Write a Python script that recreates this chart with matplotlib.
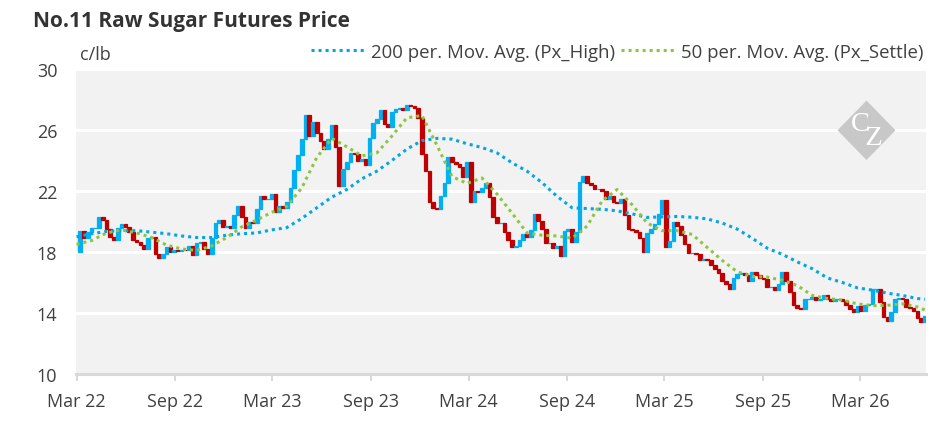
import matplotlib
matplotlib.use("Agg")
import matplotlib.pyplot as plt
from matplotlib.lines import Line2D
from matplotlib.patches import Polygon
import numpy as np
import pandas as pd

plt.rcParams['font.family'] = ['Open Sans', 'DejaVu Sans']

title = "No.11 Raw Sugar Futures Price"
unit_label = "c/lb"
legend_labels = ["200 per. Mov. Avg. (Px_High)", "50 per. Mov. Avg. (Px_Settle)"]
watermark = "C\n  Z"
start_date = "2022-03-01"

# weekly settle prices (c/lb)
settle = [
    18.0, 19.4, 18.9, 19.3, 19.6, 19.6, 20.3, 20.1, 19.5, 19.0,
    18.8, 19.6, 19.85, 19.65, 19.3, 18.8, 18.65, 18.45, 18.2, 18.9,
    19.0, 17.9, 17.6, 17.9, 18.3, 18.0, 18.1, 18.05, 18.15, 18.1,
    18.4, 17.8, 18.6, 18.65, 18.2, 17.9, 18.9, 19.9, 20.1, 19.65,
    19.7, 19.6, 20.4, 21.0, 20.3, 19.6, 19.95, 19.9, 20.8, 21.7,
    21.5, 21.5, 21.8, 20.6, 21.0, 20.9, 21.3, 22.2,
    23.4, 24.35, 25.4, 27.0, 25.6, 26.5, 25.8, 25.3, 24.75, 25.4,
    26.35, 24.9, 22.3, 23.45, 23.9, 24.5, 24.4, 23.95, 24.1, 23.7,
    25.45, 26.45, 26.7, 27.3, 26.4, 26.2, 27.2, 27.4, 27.45, 27.3,
    27.65, 27.6, 27.45, 26.8, 24.4, 23.3, 21.3, 20.9, 20.85, 21.7,
    22.5, 24.2, 23.9, 23.75, 23.6, 22.9, 23.9, 21.3, 22.0, 21.95,
    22.2, 22.55, 21.6, 20.3, 19.9, 19.9, 19.3,
    18.8, 18.35, 18.4, 18.8, 19.2, 19.0, 19.45, 20.5, 20.05, 19.5,
    18.6, 18.6, 18.25, 18.4, 17.75, 19.4, 19.5, 18.65, 19.3, 22.6,
    23.0, 22.5, 22.4, 22.1, 22.1, 22.0, 21.45, 21.7, 21.25, 21.2,
    21.5, 20.4, 19.5, 19.45, 19.3, 18.9, 18.0, 19.25, 19.5, 19.85,
    20.5, 21.4, 18.3, 18.7, 20.0, 19.7, 19.1, 18.5, 17.95, 17.95,
    17.85, 17.5, 17.55, 17.5, 17.15, 16.9, 16.65,
    16.1, 15.9, 15.6, 16.3, 16.55, 16.6, 16.5, 16.1, 16.7, 16.5,
    16.3, 16.2, 15.7, 15.7, 15.5, 15.9, 16.7, 16.1, 15.4, 14.5,
    14.3, 14.25, 14.9, 14.9, 15.05, 14.85, 14.9, 15.15, 14.95, 14.8,
    14.9, 14.9, 14.8, 14.55, 14.25, 14.05, 14.45, 14.1, 14.5, 14.6,
    15.6, 15.6, 14.7, 13.75, 13.5, 14.05, 14.9, 15.0, 14.95, 14.4,
    14.35, 14.1, 13.7, 13.4, 13.8,
]

# moving averages, read every 4 weeks (+ last week)
ma200_high = [
    19.0, 19.2, 19.35, 19.4, 19.4, 19.3, 19.2, 19.05, 18.95, 18.95,
    19.1, 19.2, 19.25, 19.45, 19.6, 20.2, 20.9, 21.6, 22.1, 22.8,
    23.3, 24.0, 24.75, 25.3, 25.45, 25.4, 25.1, 24.85, 24.5, 23.85,
    23.3, 22.55, 21.65, 20.9, 20.85, 20.8, 20.7, 20.5, 20.27, 20.3,
    20.33, 20.28, 20.17, 19.9, 19.5, 18.9, 18.25, 17.85, 17.35, 16.9,
    16.3, 16.0, 15.65, 15.5, 15.3, 15.15, 14.95, 14.9,
]
ma50_settle = [
    18.5, 18.75, 19.25, 19.45, 19.25, 18.95, 18.45, 18.2, 18.1, 18.4,
    18.95, 19.65, 20.1, 20.6, 21.0, 22.2, 24.2, 25.45, 24.9, 24.3,
    24.5, 25.6, 26.8, 26.95, 25.0, 22.95, 22.5, 22.85, 21.8, 20.55,
    19.25, 19.1, 19.05, 18.9, 19.7, 21.35, 22.1, 21.1, 19.9, 19.4,
    19.4, 19.15, 18.3, 17.45, 16.7, 16.4, 16.35, 16.15, 15.8, 15.15,
    14.95, 14.85, 14.6, 14.48, 14.5, 14.6, 14.4, 14.2,
]

y_ticks = [10, 14, 18, 22, 26, 30]
x_tick_dates = ["2022-03-01", "2022-09-01", "2023-03-01", "2023-09-01", "2024-03-01",
                "2024-09-01", "2025-03-01", "2025-09-01", "2026-03-01"]
x_tick_labels = ["Mar 22", "Sep 22", "Mar 23", "Sep 23", "Mar 24",
                 "Sep 24", "Mar 25", "Sep 25", "Mar 26"]

C_UP = "#00B0F0"
C_DOWN = "#C00000"
C_MA200 = "#00A6E6"
C_MA50 = "#8CC63F"
TXT = "#404040"
DOTS = (0, (1, 1.3))

dates = pd.date_range(start_date, periods=len(settle), freq="7D")
ma_dates = list(dates[::4]) + [dates[-1]]

fig = plt.figure(figsize=(9.51, 4.39), dpi=100)
ax = fig.add_axes([76 / 951, 1 - 375 / 439, 850 / 951, 305 / 439])
ax.set_facecolor("#F2F2F2")

s = np.array(settle)
op = s[:-1]
cl = s[1:]
lo = np.minimum(op, cl)
hi = np.maximum(op, cl)
cols = [C_UP if c >= o else C_DOWN for o, c in zip(op, cl)]
ax.bar(dates[1:], hi - lo, bottom=lo, width=6.8, color=cols, edgecolor=cols,
       linewidth=0.9, zorder=3)

ax.plot(ma_dates, ma200_high, color=C_MA200, lw=2.2, linestyle=DOTS, zorder=4)
ax.plot(ma_dates, ma50_settle, color=C_MA50, lw=2.2, linestyle=DOTS, zorder=4)

ax.set_ylim(10, 30)
ax.set_yticks(y_ticks)
ax.set_xlim(pd.Timestamp("2022-02-28"), dates[-1] + pd.Timedelta(days=2))
ax.set_xticks([pd.Timestamp(d) for d in x_tick_dates])
ax.set_xticklabels(x_tick_labels)

ax.grid(axis="y", color="white", lw=2.2, zorder=1)
ax.set_axisbelow(True)
for sp in ["top", "right", "left"]:
    ax.spines[sp].set_visible(False)
ax.spines["bottom"].set_color("#D9D9D9")
ax.spines["bottom"].set_linewidth(2.2)
ax.spines["bottom"].set_zorder(5)
ax.tick_params(axis="y", length=0, pad=13.5, labelsize=13, labelcolor=TXT)
ax.tick_params(axis="x", length=5, width=1.5, color="#D9D9D9", pad=8,
               labelsize=13, labelcolor=TXT)

fig.text(33 / 951, 1 - 22 / 439, title, fontsize=15, fontweight="bold",
         color="#333333", va="center", ha="left")
fig.text(80 / 951, 1 - 55 / 439, unit_label, fontsize=13, color=TXT,
         va="center", ha="left")

handles = [Line2D([0], [0], color=C_MA200, lw=2.2, linestyle=DOTS),
           Line2D([0], [0], color=C_MA50, lw=2.2, linestyle=DOTS)]
leg = fig.legend(handles, legend_labels, loc="center right", ncol=2,
                 bbox_to_anchor=(923 / 951, 1 - 53 / 439), frameon=False,
                 fontsize=13.4, handlelength=2.85, handletextpad=0.38,
                 columnspacing=0.3, borderaxespad=0, borderpad=0)
for t in leg.get_texts():
    t.set_color(TXT)

# watermark
cx, cy, hw, hh = 866.5 / 951, 1 - 131.3 / 439, 29 / 951, 29.7 / 439
dia = Polygon([[cx - hw, cy], [cx, cy + hh], [cx + hw, cy], [cx, cy - hh]],
              closed=True, transform=fig.transFigure, facecolor="#C8C8C8",
              edgecolor="none", zorder=2)
fig.add_artist(dia)
fig.text(cx, cy, watermark, fontsize=20.5, color="white",
         family="Liberation Serif", ha="center", va="center",
         multialignment="left", linespacing=0.42)

fig.savefig("out.png", dpi=100)
